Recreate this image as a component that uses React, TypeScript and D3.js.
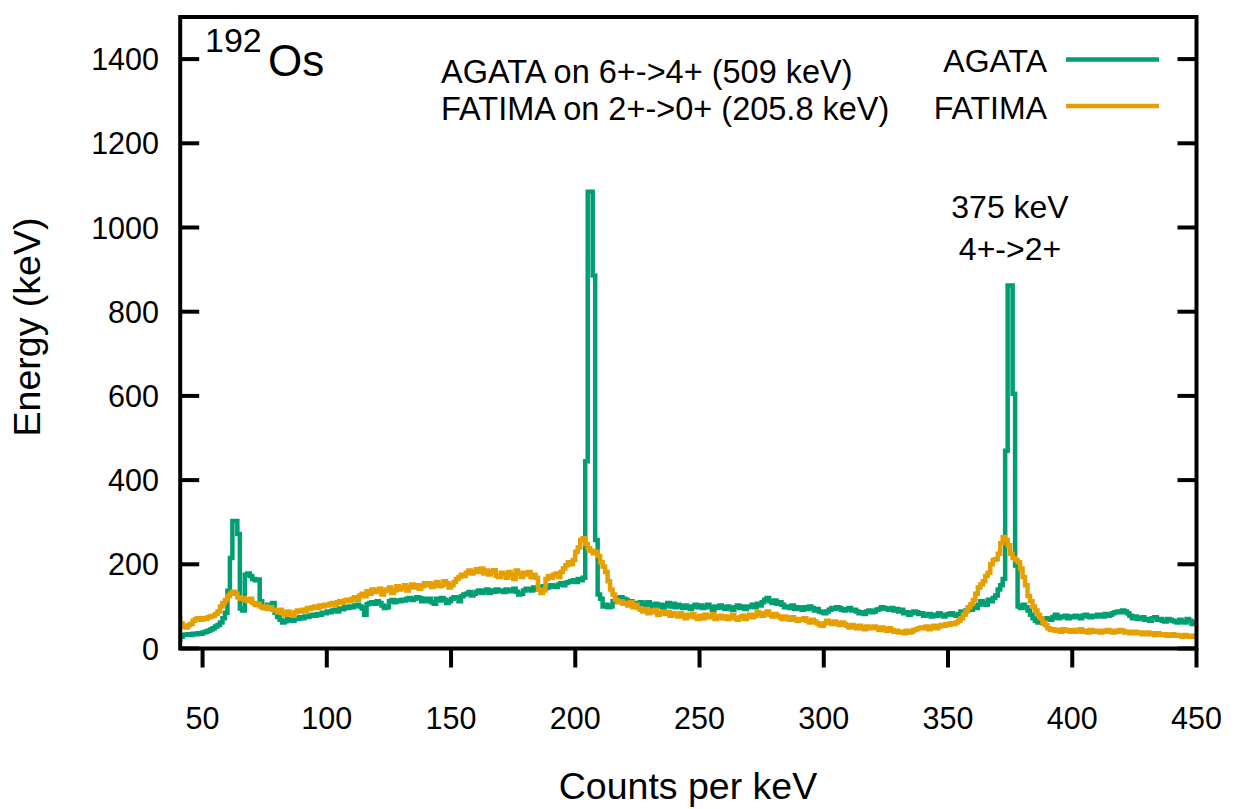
import React from "react";
import * as d3 from "d3";

// Spectrum bins: 1 keV wide, first bin starts at BIN_START
const BIN_START = 40;

const agataCounts: number[] = [
  22, 28, 32, 33, 34, 32, 35, 34, 36, 35,
  38, 40, 42, 45, 48, 52, 56, 62, 72, 85,
  137, 215, 303, 303, 272, 95, 90, 175, 178, 172,
  165, 162, 164, 112, 100, 96, 104, 98, 108, 85,
  75, 68, 62, 65, 70, 68, 66, 72, 70, 74,
  72, 76, 75, 78, 80, 78, 82, 80, 85, 84,
  88, 86, 90, 92, 88, 95, 93, 98, 96, 100,
  98, 102, 104, 100, 95, 80, 105, 108, 110, 106,
  112, 108, 102, 96, 98, 112, 115, 110, 114, 112,
  116, 114, 118, 120, 115, 118, 122, 120, 112, 118,
  112, 118, 110, 106, 118, 114, 120, 116, 108, 112,
  118, 122, 120, 112, 124, 128, 130, 134, 126, 130,
  135, 138, 132, 136, 140, 132, 138, 135, 140, 136,
  138, 134, 140, 136, 138, 142, 135, 128, 130, 138,
  142, 140, 138, 145, 140, 146, 142, 148, 144, 146,
  150, 148, 146, 152, 155, 150, 156, 158, 160, 162,
  158, 165, 162, 168, 445, 1085, 1085, 886, 258, 128,
  118, 100, 104, 98, 100, 112, 118, 120, 122, 118,
  116, 110, 112, 106, 108, 104, 110, 106, 102, 110,
  104, 98, 106, 100, 104, 96, 102, 108, 100, 106,
  98, 104, 100, 96, 102, 98, 94, 100, 104, 98,
  102, 96, 100, 104, 98, 92, 100, 96, 102, 98,
  94, 100, 96, 92, 98, 102, 96, 100, 94, 98,
  100, 104, 98, 106, 102, 110, 116, 120, 112, 108,
  114, 106, 110, 104, 98, 100, 96, 102, 94, 98,
  96, 92, 98, 94, 100, 96, 90, 94, 88, 86,
  84, 88, 92, 96, 94, 98, 96, 92, 90, 94,
  96, 90, 92, 88, 84, 86, 82, 88, 90, 86,
  88, 92, 94, 98, 96, 94, 92, 96, 90, 94,
  88, 92, 84, 86, 80, 84, 88, 86, 82, 84,
  78, 80, 82, 76, 80, 78, 84, 80, 76, 80,
  82, 84, 80, 78, 82, 88, 84, 90, 96, 92,
  100, 96, 104, 112, 108, 104, 116, 112, 120, 126,
  140, 150, 165, 470, 862, 862, 605, 197, 100, 96,
  104, 98, 90, 80, 72, 66, 62, 68, 60, 72,
  70, 68, 75, 80, 72, 76, 74, 78, 72, 76,
  74, 78, 76, 72, 78, 80, 76, 74, 78, 76,
  80, 78, 76, 82, 78, 80, 84, 86, 88, 86,
  90, 88, 84, 78, 72, 76, 70, 72, 74, 68,
  70, 66, 72, 74, 68, 70, 66, 64, 70, 68,
  66, 64, 62, 68, 64, 62, 70, 66, 58, 62,
];

const fatimaCounts: number[] = [
  72, 60, 52, 50, 55, 58, 66, 70, 72, 68,
  72, 70, 74, 76, 78, 82, 88, 100, 108, 115,
  125, 130, 135, 130, 122, 118, 120, 115, 112, 118,
  108, 104, 106, 100, 96, 100, 94, 98, 92, 90,
  86, 92, 84, 80, 88, 82, 78, 86, 90, 88,
  92, 88, 96, 94, 98, 100, 96, 102, 100, 104,
  102, 106, 108, 104, 110, 112, 108, 114, 116, 112,
  118, 122, 116, 126, 130, 124, 136, 130, 140, 134,
  138, 142, 128, 136, 140, 145, 132, 138, 148, 140,
  144, 150, 138, 146, 152, 145, 150, 142, 148, 155,
  150, 155, 146, 152, 158, 148, 150, 160, 155, 145,
  150, 158, 165, 170, 175, 172, 180, 185, 178, 182,
  188, 182, 190, 178, 185, 176, 182, 186, 172, 170,
  180, 176, 168, 182, 175, 165, 185, 178, 170, 180,
  176, 182, 170, 175, 168, 140, 132, 138, 165, 172,
  168, 175, 178, 170, 182, 190, 198, 205, 200, 210,
  230, 240, 258, 262, 248, 238, 232, 226, 230, 220,
  205, 195, 182, 160, 140, 128, 115, 110, 112, 106,
  108, 102, 110, 98, 104, 96, 92, 88, 94, 84,
  90, 86, 92, 80, 84, 88, 82, 86, 78, 84,
  80, 76, 84, 78, 72, 80, 76, 82, 74, 70,
  78, 72, 80, 74, 76, 82, 70, 74, 78, 72,
  76, 70, 74, 80, 72, 68, 74, 78, 70, 76,
  80, 74, 78, 86, 82, 78, 84, 88, 80, 76,
  82, 78, 74, 70, 76, 72, 68, 74, 70, 66,
  70, 68, 72, 66, 62, 68, 64, 60, 56, 54,
  60, 66, 62, 58, 64, 60, 56, 62, 58, 54,
  50, 56, 52, 48, 54, 50, 46, 52, 48, 50,
  52, 48, 44, 50, 46, 42, 48, 44, 40, 42,
  38, 40, 36, 42, 38, 40, 44, 46, 48, 50,
  48, 52, 46, 50, 54, 48, 52, 56, 54, 58,
  56, 60, 58, 62, 66, 72, 80, 88, 98, 105,
  115, 130, 145, 152, 160, 172, 180, 200, 210, 212,
  225, 250, 265, 258, 245, 225, 215, 210, 205, 190,
  170, 150, 125, 112, 100, 90, 80, 72, 62, 55,
  48, 44, 46, 42, 44, 40, 46, 42, 44, 40,
  44, 40, 42, 46, 40, 42, 38, 44, 40, 42,
  40, 38, 42, 40, 44, 40, 38, 42, 40, 44,
  42, 38, 40, 36, 38, 40, 36, 38, 34, 36,
  38, 34, 36, 32, 36, 34, 32, 34, 30, 32,
  34, 30, 32, 30, 28, 32, 30, 28, 30, 28,
];

const xTicks = [50, 100, 150, 200, 250, 300, 350, 400, 450];
const yTicks = [0, 200, 400, 600, 800, 1000, 1200, 1400];

const seriesNames = ["AGATA", "FATIMA"];
const seriesColors = ["#009E73", "#E69F00"];

const W = 1237;
const H = 809;
const FONT = "'Liberation Sans', Arial, Helvetica, sans-serif";

export default function App() {
  const left = 180.2;
  const right = 1196.5;
  const top = 17;
  const bottom = 648.5;

  const x = d3.scaleLinear().domain([41, 450]).range([left, right]);
  const y = d3.scaleLinear().domain([0, 1500]).range([bottom, top]);

  const toPoints = (vals: number[]) => {
    const pts = vals.map((v, i) => ({ e: BIN_START + i, v }));
    pts.push({ e: BIN_START + vals.length, v: vals[vals.length - 1] });
    return pts;
  };

  const line = d3
    .line<{ e: number; v: number }>()
    .x((d) => x(d.e))
    .y((d) => y(d.v))
    .curve(d3.curveStepAfter);

  const paths = [agataCounts, fatimaCounts].map((vals) => line(toPoints(vals)) || "");

  return (
    <svg
      width={W}
      height={H}
      viewBox={`0 0 ${W} ${H}`}
      style={{ position: "absolute", left: 0, top: 0, background: "#fff", display: "block" }}
      fontFamily={FONT}
    >
      <rect x={0} y={0} width={W} height={H} fill="#fff" />
      <defs>
        <clipPath id="plotClip">
          <rect x={left} y={top} width={right - left} height={bottom - top} />
        </clipPath>
      </defs>

      <g clipPath="url(#plotClip)">
        {paths.map((d, i) => (
          <path
            key={seriesNames[i]}
            d={d}
            fill="none"
            stroke={seriesColors[i]}
            strokeWidth={4.5}
            strokeLinejoin="miter"
          />
        ))}
      </g>

      {/* Y ticks (inward on left and right) */}
      {yTicks.map((t) => (
        <g key={"y" + t}>
          <line x1={left} x2={left + 19} y1={y(t)} y2={y(t)} stroke="#000" strokeWidth={4} />
          <line x1={right - 19} x2={right} y1={y(t)} y2={y(t)} stroke="#000" strokeWidth={4} />
          <text x={159} y={y(t) + 11} textAnchor="end" fontSize={30.5} fill="#000">
            {t}
          </text>
        </g>
      ))}

      {/* X ticks (outward) */}
      {xTicks.map((t) => (
        <g key={"x" + t}>
          <line x1={x(t)} x2={x(t)} y1={bottom} y2={bottom + 19} stroke="#000" strokeWidth={4} />
          <text x={x(t)} y={729} textAnchor="middle" fontSize={30.5} fill="#000">
            {t}
          </text>
        </g>
      ))}

      {/* Frame */}
      <rect
        x={left}
        y={top}
        width={right - left}
        height={bottom - top}
        fill="none"
        stroke="#000"
        strokeWidth={4}
      />

      {/* Axis titles */}
      <text x={688} y={799} textAnchor="middle" fontSize={37.5} fill="#000">
        Counts per keV
      </text>
      <text
        transform={`translate(40, 327) rotate(-90)`}
        textAnchor="middle"
        fontSize={37.5}
        fill="#000"
      >
        Energy (keV)
      </text>

      {/* Isotope label */}
      <text x={205} y={52} fontSize={34} fill="#000">
        192
      </text>
      <text x={268} y={76} fontSize={44} fill="#000">
        Os
      </text>

      {/* Annotation */}
      <text x={441} y={83} fontSize={32.5} fill="#000">
        AGATA on 6+-&gt;4+ (509 keV)
      </text>
      <text x={441} y={120} fontSize={32.5} fill="#000">
        FATIMA on 2+-&gt;0+ (205.8 keV)
      </text>

      <text x={1010} y={218} textAnchor="middle" fontSize={32} fill="#000">
        375 keV
      </text>
      <text x={1010} y={260} textAnchor="middle" fontSize={32} fill="#000">
        4+-&gt;2+
      </text>

      {/* Legend */}
      {seriesNames.map((n, i) => (
        <g key={"leg" + n}>
          <text x={1047} y={72 + i * 46.5} textAnchor="end" fontSize={32} fill="#000">
            {n}
          </text>
          <line
            x1={1066}
            x2={1159}
            y1={59.5 + i * 46.5}
            y2={59.5 + i * 46.5}
            stroke={seriesColors[i]}
            strokeWidth={4.5}
          />
        </g>
      ))}
    </svg>
  );
}
